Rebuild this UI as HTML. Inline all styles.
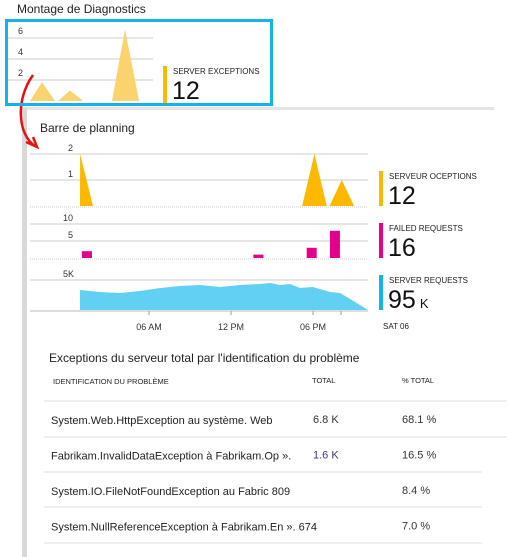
<!DOCTYPE html>
<html><head><meta charset="utf-8"><style>
body{margin:0;width:507px;height:557px;background:#fff;font-family:"Liberation Sans",sans-serif;overflow:hidden;position:relative}
.t{position:absolute;white-space:nowrap;color:#222}
</style></head><body>
<div class="t" style="left:17px;top:2px;font-size:12px">Montage de Diagnostics</div>
<div style="position:absolute;left:22px;top:107px;width:472px;height:3px;background:#e4e4e4"></div>
<div style="position:absolute;left:22px;top:108px;width:5px;height:449px;background:#d8d8d8"></div>
<div class="t" style="left:40px;top:121px;font-size:12px">Barre de planning</div>
<svg id="s" width="507" height="557" style="position:absolute;left:0;top:0" font-family="Liberation Sans, sans-serif"></svg>
<div style="position:absolute;left:5px;top:19px;width:262px;height:81px;border:3px solid #12b4ea"></div>
<div class="t" style="left:49px;top:351px;font-size:12px">Exceptions du serveur total par l'identification du problème</div>
<div class="t" style="left:53px;top:377px;font-size:7.5px">IDENTIFICATION DU PROBLÈME</div>
<div class="t" style="left:312px;top:376px;font-size:7.5px">TOTAL</div>
<div class="t" style="left:402px;top:376px;font-size:7.5px">% TOTAL</div>
<script>
const NS='http://www.w3.org/2000/svg';const s=document.getElementById('s');
function el(t,a,p){const e=document.createElementNS(NS,t);for(const k in a)e.setAttribute(k,a[k]);(p||s).appendChild(e);return e;}
// data
const miniX=[8,30,42,55,58,70,83,112,125,139,153];
const miniVals=[0,0,1.8,0,0,1,0,0,6.8,0,0];
const excTimes=[0.95,0.96,1.9,17.2,18.1,19.0,19.2,20.1,21.0];
const excVals=[0,2,0,0,2,0,0,1,0];
const failTimes=[1.46,14.0,17.9,19.6];
const failVals=[2,1,3,8];
const reqTimes=[0.95,2.41,3.88,5.34,6.8,8.27,9.73,11.19,12.66,14.12,14.85,15.58,16.31,17.04,17.99,19.24,19.97,21.07,22.02];
const reqVals=[3.33,3.0,2.83,3.17,3.67,4.0,4.17,3.83,4.17,4.33,4.5,4.17,4.33,3.67,3.83,3.0,2.83,1.33,0];
const tickLabels=['06 AM','12 PM','06 PM'];const tickTimes=[6,12,18];
// mini chart
const my=v=>101-v*10.5;
[[2,80],[4,59],[6,38]].forEach(([v,y])=>{const l=el('line',{x1:8,x2:153,y1:y,y2:y,stroke:'#ccc'});
const t=el('text',{x:18,y:y-4,'font-size':9,fill:'#333'});t.textContent=v;});
const mp=el('polygon',{points:miniX.map((x,i)=>x+','+my(miniVals[i])).join(' '),fill:'#fbd36e'});

el('rect',{x:163,y:66,width:4,height:37,fill:'#fcb900'});
let t=el('text',{x:173,y:74,'font-size':8,fill:'#222'});t.textContent='SERVER EXCEPTIONS';
t=el('text',{x:172,y:99,'font-size':25,fill:'#111'});t.textContent='12';
// arrow
const ar=el('path',{d:'M33,75 C15,100 18,135 35,146',stroke:'#e81010','stroke-width':2.5,fill:'none'});
el('path',{d:'M26,142 L37,147 L33,137',stroke:'#e81010','stroke-width':2.5,fill:'none'});
// main axes
const X=h=>67+h*13.67;const x0=30,x1=368;
function grid(y,lab,lx){const l=el('line',{x1:x0,x2:x1,y1:y,y2:y,stroke:'#ccc'});
if(lab){const tt=el('text',{x:lx,y:y-3,'font-size':9,fill:'#333','text-anchor':'end'});tt.textContent=lab;}}
// exceptions
const ey=v=>206-v*26;
grid(154,'2',73);grid(180,'1',73);
const ep=el('polygon',{points:excTimes.map((h,i)=>X(h)+','+ey(excVals[i])).join(' '),fill:'#fcb900'});
el('line',{x1:x0,x2:x1,y1:207,y2:207,stroke:'#ccc','stroke-dasharray':'1 1'});
// failed
const fy=v=>258-v*3.4;
grid(224,'10',73);grid(241,'5',73);
failTimes.forEach((h,i)=>{const r=el('rect',{x:X(h)-5,y:fy(failVals[i]),width:10,height:258-fy(failVals[i]),fill:'#e3008c'});});
el('line',{x1:x0,x2:x1,y1:259,y2:259,stroke:'#ccc','stroke-dasharray':'1 1'});
// requests
const ry=v=>310-v*6;
grid(280,'5K',74);
const rp=el('polygon',{points:[X(reqTimes[0])+',310'].concat(reqTimes.map((h,i)=>X(h)+','+ry(reqVals[i]))).join(' '),fill:'#62d0f2'});

el('line',{x1:x0,x2:x1,y1:311,y2:311,stroke:'#bbb'});
tickTimes.forEach((h,i)=>{el('line',{x1:X(h),x2:X(h),y1:311,y2:315,stroke:'#999'});
const tt=el('text',{x:X(h),y:330,'font-size':9,fill:'#333','text-anchor':'middle'});tt.textContent=tickLabels[i];});
el('line',{x1:341,x2:341,y1:311,y2:315,stroke:'#999'});
t=el('text',{x:383,y:329,'font-size':8,fill:'#222'});t.textContent='SAT 06';
// legend
[['#fcb900',171,'SERVEUR OCEPTIONS','12','legend-exceptions'],['#e3008c',223,'FAILED REQUESTS','16','legend-failed'],['#12b4ea',275,'SERVER REQUESTS','95','legend-requests']].forEach(([c,y,l,v,n])=>{
el('rect',{x:379,y:y,width:4,height:35,fill:c});
const a=el('text',{x:389,y:y+8,'font-size':8,fill:'#222'});a.textContent=l;
const b=el('text',{x:388,y:y+33,'font-size':25,fill:'#111'});b.textContent=v;
if(v==='95'){const k=el('tspan',{'font-size':13,dx:4});k.textContent='K';b.appendChild(k);}});
// table
const names=['System.Web.HttpException au système. Web','Fabrikam.InvalidDataException à Fabrikam.Op ».','System.IO.FileNotFoundException au Fabric 809','System.NullReferenceException à Fabrikam.En ». 674'];
const totals=['6.8 K','1.6 K','',''];const pcts=['68.1 %','16.5 %','8.4 %','7.0 %'];
const lines=[[401,507],[437,507],[472,482],[507,482],[543,482]];
lines.forEach(([y,w])=>{const l=el('line',{x1:44,x2:w,y1:y,y2:y,stroke:'#ddd'});});
names.forEach((nm,i)=>{const y=424+i*35.5;
let a=el('text',{x:51,y:y,'font-size':11,fill:'#222'});a.textContent=nm;
a=el('text',{x:313,y:y-1,'font-size':11,fill:i===1?'#3a3a7a':'#333'});a.textContent=totals[i];
a=el('text',{x:402,y:y-1,'font-size':11,fill:'#333'});a.textContent=pcts[i];});
</script>
</body></html>
